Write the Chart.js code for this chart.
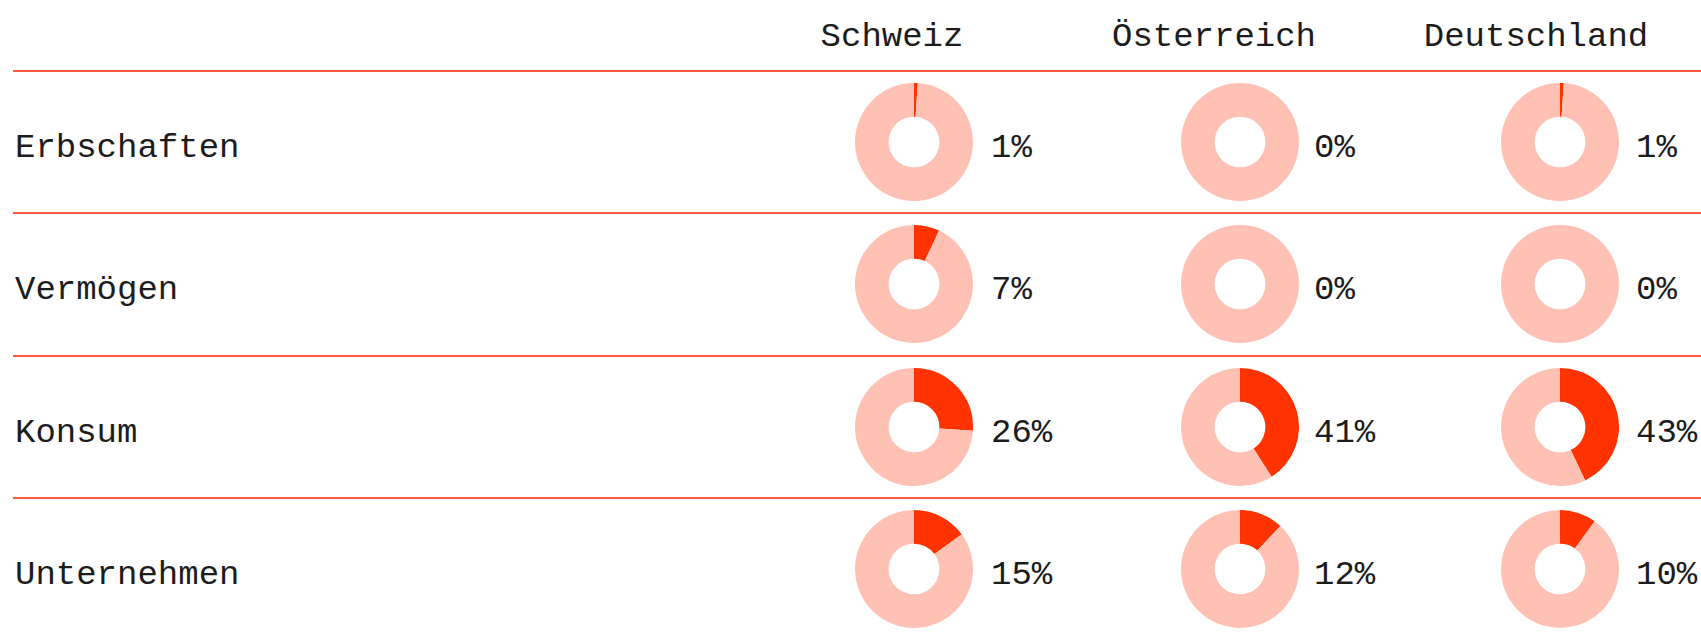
<!DOCTYPE html>
<html>
<head>
<meta charset="utf-8">
<script src="https://cdn.jsdelivr.net/npm/chart.js@4.4.1/dist/chart.umd.min.js"></script>
<style>
  html, body { margin: 0; padding: 0; background: #ffffff; }
  body { width: 1701px; height: 638px; position: relative; overflow: hidden;
         font-family: "Liberation Mono", "DejaVu Sans Mono", monospace; color: #1c1c1c; }
  .txt { position: absolute; font-size: 34px; line-height: 34px; white-space: nowrap; }
  .hdr { transform: translateX(-50%); }
  .rule { position: absolute; left: 13px; right: 0; height: 2px; background: #ff5a3e; }
  canvas.donut { position: absolute; }
</style>
</head>
<body>
<script>
// ---- data ----
const categories = ['Erbschaften', 'Vermögen', 'Konsum', 'Unternehmen'];
const countries = ['Schweiz', 'Österreich', 'Deutschland'];
const schweiz = [1, 7, 26, 15];
const oesterreich = [0, 0, 41, 12];
const deutschland = [1, 0, 43, 10];
const seriesValues = [schweiz, oesterreich, deutschland];

// ---- style / layout ----
const darkColor = '#ff3300';
const lightColor = '#ffc1b4';
const ruleY = [70, 212, 354.5, 497];
const headerCenters = [892, 1214, 1536];
const donutCenters = [914, 1240, 1560];
const labelLefts = [991, 1314, 1636];
const donutSize = 118;

// header texts
countries.forEach((c, i) => {
  const d = document.createElement('div');
  d.className = 'txt hdr';
  d.textContent = c;
  d.style.left = headerCenters[i] + 'px';
  d.style.top = '20px';
  document.body.appendChild(d);
});

categories.forEach((cat, r) => {
  const rule = document.createElement('div');
  rule.className = 'rule';
  rule.style.top = ruleY[r] + 'px';
  document.body.appendChild(rule);

  const lab = document.createElement('div');
  lab.className = 'txt';
  lab.textContent = cat;
  lab.style.left = '15px';
  lab.style.top = (ruleY[r] + 61) + 'px';
  document.body.appendChild(lab);

  const cy = ruleY[r] + 72;
  seriesValues.forEach((vals, c) => {
    const v = vals[r];
    const cv = document.createElement('canvas');
    cv.className = 'donut';
    cv.width = donutSize; cv.height = donutSize;
    cv.style.width = donutSize + 'px'; cv.style.height = donutSize + 'px';
    cv.style.left = (donutCenters[c] - donutSize / 2) + 'px';
    cv.style.top = (cy - donutSize / 2) + 'px';
    document.body.appendChild(cv);
    new Chart(cv, {
      type: 'doughnut',
      data: {
        labels: ['Anteil', 'Rest'],
        datasets: [{
          data: [v, 100 - v],
          backgroundColor: [darkColor, lightColor],
          borderWidth: 0,
          hoverOffset: 0
        }]
      },
      options: {
        responsive: false,
        animation: false,
        cutout: '43%',
        events: [],
        plugins: { legend: { display: false }, tooltip: { enabled: false } },
        layout: { padding: 0 }
      }
    });

    const pl = document.createElement('div');
    pl.className = 'txt';
    pl.textContent = v + '%';
    pl.style.left = labelLefts[c] + 'px';
    pl.style.top = (ruleY[r] + 61) + 'px';
    document.body.appendChild(pl);
  });
});
</script>
</body>
</html>
